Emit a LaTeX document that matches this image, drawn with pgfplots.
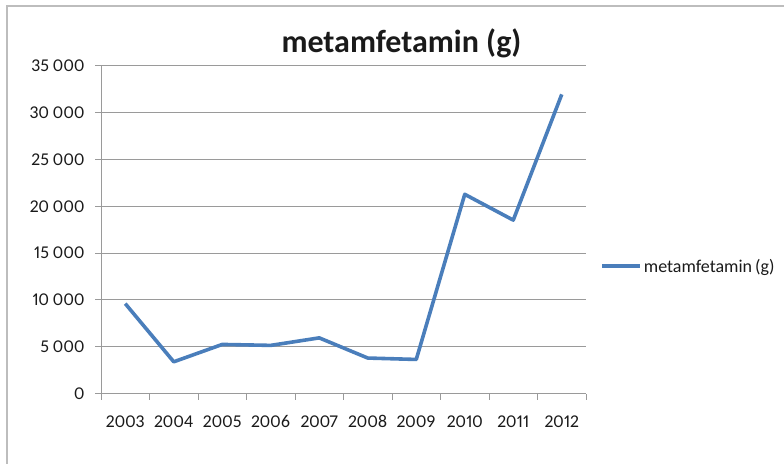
\documentclass[border=0pt]{standalone}
\usepackage{pgfplots}
\pgfplotsset{compat=1.18}
\usepackage{fontspec}
\setmainfont{Carlito}[Numbers={Lining,Proportional}]
\definecolor{excelblue}{HTML}{4A7EBB}
\definecolor{gridgray}{HTML}{9A9A9A}
\definecolor{framegray}{HTML}{BDBDBD}
\definecolor{txt}{HTML}{1A1A1A}
\begin{document}
\begin{tikzpicture}[x=1pt,y=1pt]
\useasboundingbox (0,0) rectangle (784,463);
\draw[framegray, line width=1.3pt] (7,-20) -- (7,457) -- (800,457);
\node[anchor=base, font=\bfseries\fontsize{32}{36}\selectfont, text=txt] at (401.5,410.5) {metamfetamin (g)};
\begin{axis}[
  at={(101pt,69.3pt)}, anchor=south west,
  scale only axis, width=485pt, height=328.4pt,
  xmin=-0.5, xmax=9.5, ymin=0, ymax=35000,
  axis lines=left, axis line style={-, gridgray, line width=0.9pt},
  ymajorgrids, grid style={gridgray, line width=0.9pt},
  xtick={0,...,9},
  xticklabels={2003,2004,2005,2006,2007,2008,2009,2010,2011,2012},
  ytick={0,5000,10000,15000,20000,25000,30000,35000},
  yticklabels={0,5 000,10 000,15 000,20 000,25 000,30 000,35 000},
  minor xtick={-0.5,0.5,...,9.5},
  minor ytick={0,5000,10000,15000,20000,25000,30000,35000},
  major tick length=0pt, minor tick length=6pt, tick align=outside,
  tick style={gridgray, line width=0.9pt},
  ticklabel style={font=\fontsize{18}{20}\selectfont, text=txt, text height=12pt, text depth=0pt},
  xticklabel style={anchor=north, yshift=-18pt},
  yticklabel style={xshift=-13pt},
  scaled y ticks=false,
  clip=false,
  legend style={at={(1.029,0.388)}, anchor=west, draw=none, fill=none, inner sep=0pt,
    font=\fontsize{18}{20}\selectfont, text=txt},
  legend image code/.code={\draw[#1] (0pt,0pt) -- (38pt,0pt);},
]
\addplot[excelblue, line width=3.6pt, line join=round] coordinates {
  (0,9600) (1,3400) (2,5250) (3,5150) (4,5950) (5,3800) (6,3650) (7,21250) (8,18500) (9,31900)
};
\addlegendentry{metamfetamin\,(g)}
\end{axis}
\end{tikzpicture}
\end{document}
